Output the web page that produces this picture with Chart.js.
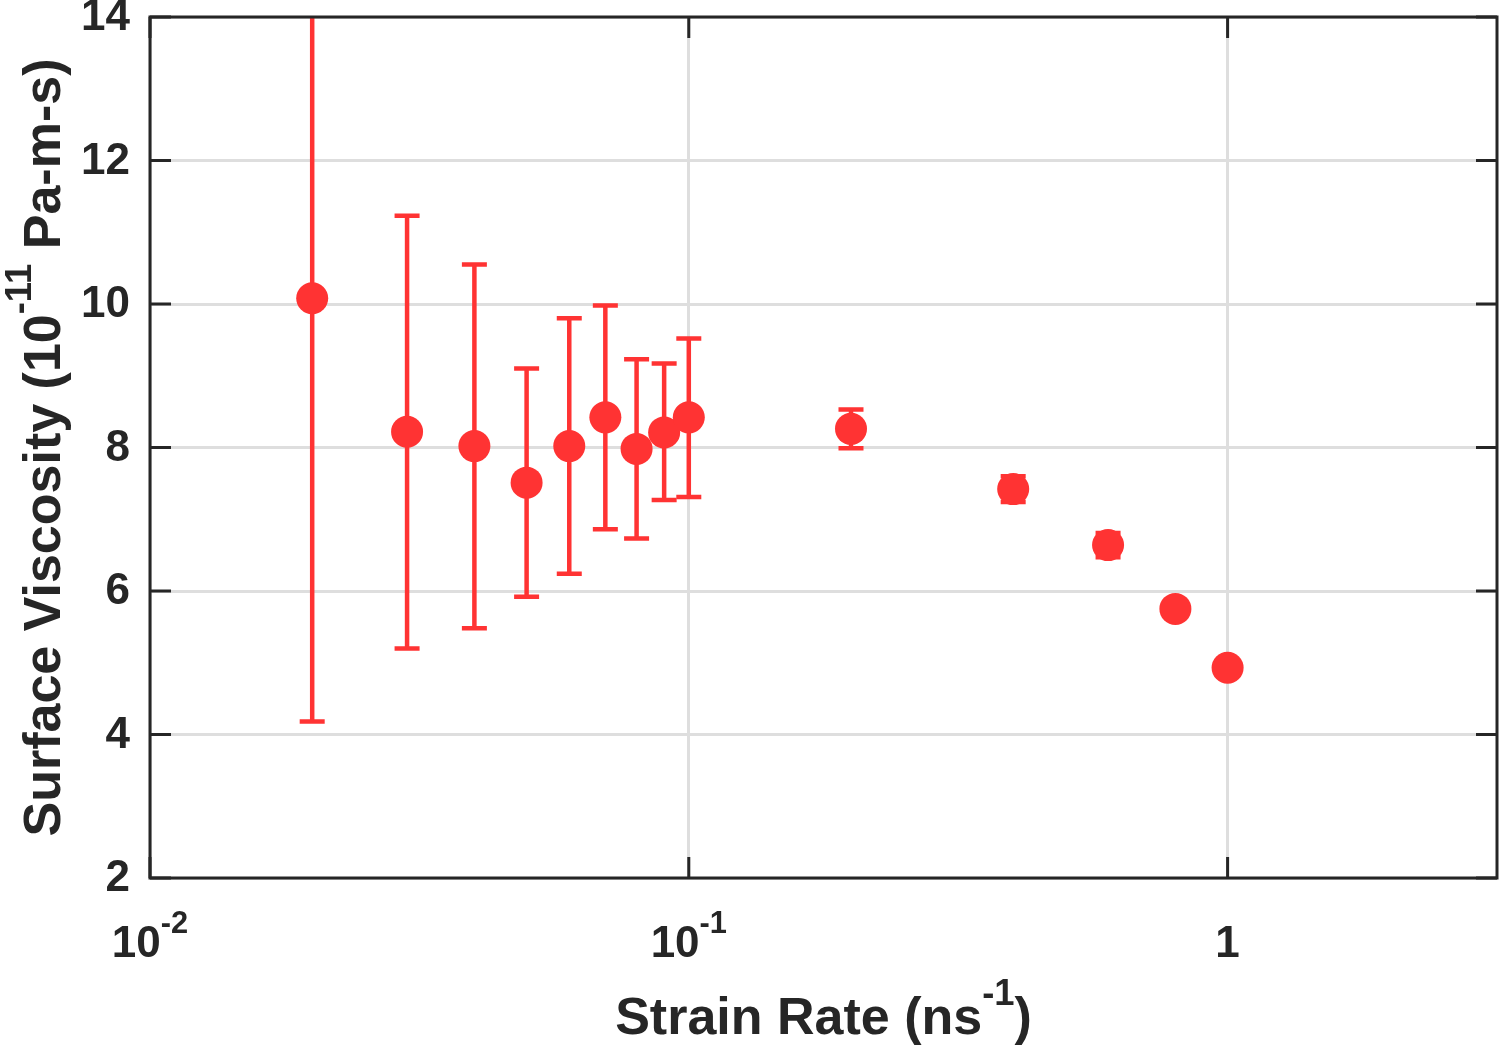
<!DOCTYPE html>
<html>
<head>
<meta charset="utf-8">
<script src="https://cdn.jsdelivr.net/npm/chart.js@4.4.1/dist/chart.umd.min.js"></script>
<style>
  html, body { margin: 0; padding: 0; background: #ffffff; }
  #wrap { width: 1500px; height: 1050px; }
</style>
</head>
<body>
<div id="wrap"><canvas id="c" width="1500" height="1050"></canvas></div>
<script>
// ---- data ----
const strainRate = [0.02, 0.03, 0.04, 0.05, 0.06, 0.07, 0.08, 0.09, 0.1, 0.2, 0.4, 0.6, 0.8, 1.0];
const viscosity  = [10.08, 8.22, 8.02, 7.51, 8.02, 8.42, 7.98, 8.21, 8.42, 8.26, 7.42, 6.64, 5.75, 4.93];
const errLow     = [4.18, 5.20, 5.48, 5.92, 6.24, 6.86, 6.73, 7.27, 7.31, 7.99, 7.24, 6.47, 5.70, 4.88];
const errHigh    = [16.0, 11.23, 10.55, 9.10, 9.80, 9.98, 9.23, 9.17, 9.52, 8.53, 7.60, 6.81, 5.80, 4.98];

const xTickValues = [0.01, 0.1, 1];
const xTickBase   = ['10', '10', '1'];
const xTickExp    = ['-2', '-1', ''];
const yTickValues = [2, 4, 6, 8, 10, 12, 14];
const yTickLabels = ['2', '4', '6', '8', '10', '12', '14'];

const xTitleParts = [['Strain Rate (ns', false], ['-1', true], [')', false]];
const yTitleParts = [['Surface Viscosity (10', false], ['-11', true], [' Pa-m-s)', false]];

const RED = 'rgb(255,51,51)';
const INK = '#262626';
const FONT = '"Liberation Sans", Arial, Helvetica, sans-serif';

function richWidth(ctx, parts, fs) {
  let w = 0;
  for (const [t, sup] of parts) {
    ctx.font = 'bold ' + (sup ? fs * 0.7 : fs) + 'px ' + FONT;
    w += ctx.measureText(t).width;
  }
  return w;
}
function drawRich(ctx, parts, x, y, fs, align) {
  const w = richWidth(ctx, parts, fs);
  let cx = align === 'center' ? x - w / 2 : (align === 'right' ? x - w : x);
  ctx.textAlign = 'left';
  ctx.textBaseline = 'alphabetic';
  for (const [t, sup] of parts) {
    ctx.font = 'bold ' + (sup ? fs * 0.7 : fs) + 'px ' + FONT;
    ctx.fillText(t, cx, sup ? y - fs * 0.55 : y);
    cx += ctx.measureText(t).width;
  }
}

const errorBarPlugin = {
  id: 'errorBars',
  beforeDatasetsDraw(chart) {
    const ctx = chart.ctx, xs = chart.scales.x, ys = chart.scales.y, a = chart.chartArea;
    ctx.save();
    ctx.beginPath();
    ctx.rect(a.left, a.top, a.right - a.left, a.bottom - a.top);
    ctx.clip();
    ctx.strokeStyle = RED;
    ctx.lineWidth = 4.5;
    ctx.lineCap = 'butt';
    const capHalf = 12.5;
    for (let i = 0; i < strainRate.length; i++) {
      const px = xs.getPixelForValue(strainRate[i]);
      const lo = ys.getPixelForValue(errLow[i]);
      const hi = ys.getPixelForValue(errHigh[i]);
      ctx.beginPath();
      ctx.moveTo(px, lo); ctx.lineTo(px, hi);
      ctx.moveTo(px - capHalf, lo); ctx.lineTo(px + capHalf, lo);
      ctx.moveTo(px - capHalf, hi); ctx.lineTo(px + capHalf, hi);
      ctx.stroke();
    }
    ctx.restore();
  }
};

const framePlugin = {
  id: 'frame',
  afterDraw(chart) {
    const ctx = chart.ctx, xs = chart.scales.x, ys = chart.scales.y, a = chart.chartArea;
    ctx.save();
    ctx.strokeStyle = INK;
    ctx.fillStyle = INK;
    ctx.lineWidth = 3;
    const tl = 21;
    ctx.beginPath();
    yTickValues.forEach(v => {
      const py = ys.getPixelForValue(v);
      ctx.moveTo(a.left, py); ctx.lineTo(a.left + tl, py);
      ctx.moveTo(a.right, py); ctx.lineTo(a.right - tl, py);
    });
    xTickValues.forEach(v => {
      const px = xs.getPixelForValue(v);
      ctx.moveTo(px, a.bottom); ctx.lineTo(px, a.bottom - tl);
      ctx.moveTo(px, a.top); ctx.lineTo(px, a.top + tl);
    });
    ctx.stroke();
    ctx.strokeRect(a.left, a.top, a.right - a.left, a.bottom - a.top);

    // y tick labels
    ctx.font = 'bold 44px ' + FONT;
    ctx.textAlign = 'right';
    ctx.textBaseline = 'middle';
    yTickValues.forEach((v, i) => {
      ctx.fillText(yTickLabels[i], a.left - 20, ys.getPixelForValue(v) + 1);
    });
    // x tick labels
    xTickValues.forEach((v, i) => {
      const parts = [[xTickBase[i], false]];
      if (xTickExp[i]) parts.push([xTickExp[i], true]);
      drawRich(ctx, parts, xs.getPixelForValue(v), a.bottom + 79, 44, 'center');
    });
    // axis titles
    drawRich(ctx, xTitleParts, (a.left + a.right) / 2, 1034, 52, 'center');
    ctx.save();
    ctx.translate(60, (a.top + a.bottom) / 2);
    ctx.rotate(-Math.PI / 2);
    drawRich(ctx, yTitleParts, 0, 0, 52, 'center');
    ctx.restore();
    ctx.restore();
  }
};

new Chart(document.getElementById('c'), {
  type: 'scatter',
  data: {
    datasets: [{
      data: strainRate.map((x, i) => ({ x: x, y: viscosity[i] })),
      backgroundColor: RED,
      borderWidth: 0,
      pointRadius: 16,
      pointHoverRadius: 16
    }]
  },
  options: {
    responsive: false,
    animation: false,
    events: [],
    layout: { autoPadding: false, padding: { left: 150, top: 17, right: 3, bottom: 172 } },
    plugins: { legend: { display: false }, tooltip: { enabled: false } },
    scales: {
      x: {
        type: 'logarithmic',
        min: 0.01,
        max: Math.pow(10, 0.5),
        afterBuildTicks: s => { s.ticks = xTickValues.map(v => ({ value: v })); },
        ticks: { display: false },
        border: { display: false },
        grid: { color: '#dedede', lineWidth: 3, drawTicks: false }
      },
      y: {
        type: 'linear',
        min: 2,
        max: 14,
        afterBuildTicks: s => { s.ticks = yTickValues.map(v => ({ value: v })); },
        ticks: { display: false },
        border: { display: false },
        grid: { color: '#dedede', lineWidth: 3, drawTicks: false }
      }
    }
  },
  plugins: [errorBarPlugin, framePlugin]
});
</script>
</body>
</html>
